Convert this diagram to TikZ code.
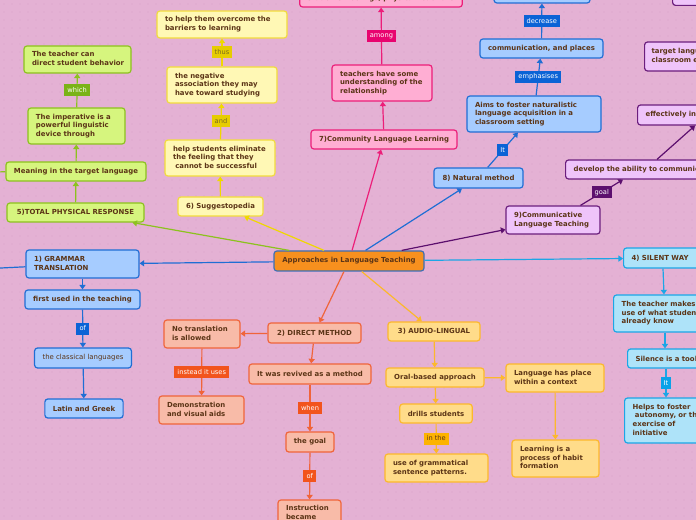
\documentclass[tikz,border=0pt]{standalone}
\usepackage{fontspec}
\setmainfont{DejaVu Sans}
\usetikzlibrary{arrows.meta,calc}
\setlength{\parindent}{0pt}
\newcommand{\mlines}[1]{\begin{tabular}{@{}l@{}}#1\end{tabular}}
\definecolor{bgc}{HTML}{E4B1D4}
\definecolor{dotc}{HTML}{D8A2C8}
\definecolor{txt}{HTML}{5B3416}
\definecolor{gfill}{HTML}{D6F57E}\definecolor{gdraw}{HTML}{8CC21E}\definecolor{glab}{HTML}{7AB317}
\definecolor{yfill}{HTML}{FFF8B5}\definecolor{ydraw}{HTML}{F2DC3C}\definecolor{ylab}{HTML}{E6CC00}\definecolor{yline}{HTML}{F0D800}
\definecolor{pfill}{HTML}{FFAED3}\definecolor{pdraw}{HTML}{EC1E79}\definecolor{plab}{HTML}{E8046F}
\definecolor{bfill}{HTML}{A6CCFF}\definecolor{bdraw}{HTML}{1F6ED4}\definecolor{blab}{HTML}{0B63D6}
\definecolor{ufill}{HTML}{EFC4FA}\definecolor{udraw}{HTML}{6B1E7D}\definecolor{ulab}{HTML}{5C0F6E}
\definecolor{lfill}{HTML}{AEE3F9}\definecolor{ldraw}{HTML}{1CA6E6}\definecolor{llab}{HTML}{0AA2E8}
\definecolor{sfill}{HTML}{F8BBA8}\definecolor{sdraw}{HTML}{F0643A}\definecolor{slab}{HTML}{F2541D}
\definecolor{ofill}{HTML}{FFDC8A}\definecolor{odraw}{HTML}{FCB82C}\definecolor{olab}{HTML}{FDB300}
\definecolor{cfill}{HTML}{F7901E}\definecolor{cdraw}{HTML}{3C6EB4}
\definecolor{ylabtxt}{HTML}{7A6A20}
\tikzset{
  box/.style={draw, rounded corners=2.2pt, line width=0.9pt, text=txt,
    font=\fontsize{5.2}{6.5}\selectfont\bfseries, align=left, inner xsep=6pt, inner ysep=0pt},
  wh/.style 2 args={minimum width=#1*0.75pt, minimum height=#2*0.75pt},
  lab/.style={inner xsep=2.3pt, inner ysep=0pt, minimum height=9pt,
    font=\fontsize{5}{6}\selectfont, text=white},
  con/.style={line width=0.9pt},
  arr/.style={con, -{Triangle[width=4.6pt,length=3.4pt]}},
  gbox/.style={box, fill=gfill, draw=gdraw},
  ybox/.style={box, fill=yfill, draw=ydraw},
  pbox/.style={box, fill=pfill, draw=pdraw},
  bbox/.style={box, fill=bfill, draw=bdraw},
  ubox/.style={box, fill=ufill, draw=udraw},
  lbox/.style={box, fill=lfill, draw=ldraw},
  sbox/.style={box, fill=sfill, draw=sdraw},
  obox/.style={box, fill=ofill, draw=odraw},
  cbox/.style={box, fill=cfill, draw=cdraw},
}
\begin{document}
\begin{tikzpicture}[x=0.75pt,y=-0.75pt]
\useasboundingbox (0,0) rectangle (696,520);
\clip (0,0) rectangle (696,520);
\fill[bgc] (0,0) rectangle (696,520);
\foreach \x in {4,12,...,700} \foreach \y in {4,12,...,524} {\fill[dotc] (\x,\y) circle (0.45pt);}

% central
\node[cbox, wh={150}{20}] (c) at (349,261) {Approaches in Language Teaching};

% green: TPR
\node[gbox, wh={137}{19}] (tpr) at (75.5,212.5) {5)TOTAL PHYSICAL RESPONSE};
\node[gbox, wh={138}{19}] (mean) at (76,171.5) {Meaning in the target language};
\node[gbox, text width=60.75pt, minimum height=36*0.75pt] (imp) at (76.5,126) {\mlines{The imperative is a\\powerful linguistic\\device through}};
\node[gbox, text width=68.25pt, minimum height=27*0.75pt] (tcan) at (77.5,59.5) {\mlines{The teacher can\\direct student behavior}};
\coordinate (offA) at (-30,172);

% yellow: Suggestopedia
\node[ybox, wh={85}{19}] (sug) at (220.5,206.5) {6) Suggestopedia};
\node[ybox, text width=70.5pt, minimum height=36*0.75pt] (help) at (220,158) {\mlines{help students eliminate\\the feeling that they\\\ cannot be successful}};
\node[ybox, text width=70.5pt, minimum height=36*0.75pt] (neg) at (222,85) {\mlines{the negative\\association they may\\have toward studying}};
\node[ybox, text width=85.5pt, minimum height=27*0.75pt] (over) at (222,24.5) {\mlines{to help them overcome the\\barriers to learning}};

% pink: CLL
\node[pbox, wh={146}{19}] (cll) at (384,139.5) {7)Community Language Learning};
\node[pbox, text width=63pt, minimum height=36*0.75pt] (teach) at (382,83) {\mlines{teachers have some\\understanding of the\\relationship}};
\node[pbox, wh={162}{16}] (ptop) at (381,-1) {students' feelings, physical reactions};

% blue: Natural method
\node[bbox, wh={89}{20}] (nat) at (478.5,178) {8) Natural method};
\node[bbox, text width=88.5pt, minimum height=36*0.75pt] (aims) at (534,114) {\mlines{Aims to foster naturalistic\\language acquisition in a\\classroom setting}};
\node[bbox, wh={123}{19}] (comm) at (541.5,48.5) {communication, and places};
\node[bbox, wh={96}{20}] (btop) at (542,-7) {};

% purple: CLT
\node[ubox, text width=58.5pt, minimum height=28*0.75pt] (clt) at (553,220) {\mlines{9)Communicative\\Language Teaching}};
\node[ubox, anchor=west, text width=150pt, minimum height=19*0.75pt] (dev) at (565,169.5) {develop the ability to communicate};
\node[ubox, anchor=west, text width=90pt, minimum height=20*0.75pt] (eff) at (637,115) {effectively in the};
\node[ubox, anchor=west, text width=90pt, minimum height=29*0.75pt, inner xsep=5.2pt] (tgt) at (644,56.5) {\mlines{target language\\classroom environment}};
\node[ubox, anchor=south west, wh={60}{20}] (utop) at (672,6) {};

% light blue: Silent Way
\node[lbox, anchor=west, text width=75pt, minimum height=20*0.75pt] (sw) at (623,258) {4) SILENT WAY};
\node[lbox, anchor=west, text width=90pt, minimum height=37*0.75pt] (tm) at (613,313.5) {\mlines{The teacher makes\\use of what students\\already know}};
\node[lbox, anchor=west, text width=75pt, minimum height=19*0.75pt] (sil) at (627,358.5) {Silence is a tool};
\node[lbox, anchor=west, text width=90pt, minimum height=45*0.75pt] (helps) at (624,420.5) {\mlines{Helps to foster\\\ autonomy, or the\\exercise of\\initiative}};

% blue: Grammar translation
\node[bbox, text width=72.75pt, minimum height=28*0.75pt] (gt) at (82.5,264) {\mlines{1) GRAMMAR\\TRANSLATION}};
\node[bbox, wh={115}{19}] (first) at (82.5,299.5) {first used in the teaching};
\node[bbox, wh={96}{20}, font=\fontsize{5.2}{6.5}\selectfont] (class) at (83,358) {the classical languages};
\node[bbox, wh={78}{19}] (latin) at (84,408.5) {Latin and Greek};
\coordinate (offB) at (-40,270);

% salmon: Direct method
\node[sbox, wh={93}{20}] (dm) at (314.5,333) {2) DIRECT METHOD};
\node[sbox, text width=45pt, minimum height=28*0.75pt] (notr) at (202,334) {\mlines{No translation\\is allowed}};
\node[sbox, text width=51.75pt, minimum height=28*0.75pt] (demo) at (201.5,410) {\mlines{Demonstration\\and visual aids}};
\node[sbox, wh={122}{20}] (rev) at (310,374) {It was revived as a method};
\node[sbox, wh={48}{20}] (goal) at (310,442) {the goal};
\node[sbox, text width=35.25pt, minimum height=27*0.75pt] (instr) at (309.5,513.5) {\mlines{Instruction\\became}};

% orange: Audio-lingual
\node[obox, wh={92}{19}] (al) at (434,331.5) {3) AUDIO-LINGUAL};
\node[obox, wh={98}{19}] (oral) at (435,377.5) {Oral-based approach};
\node[obox, text width=61.5pt, minimum height=28*0.75pt] (lang) at (555,378) {\mlines{Language has place\\within a context}};
\node[obox, wh={72}{19}] (drill) at (436,413.5) {drills students};
\node[obox, text width=65.25pt, minimum height=28*0.75pt] (use) at (436.5,468) {\mlines{use of grammatical\\sentence patterns.}};
\node[obox, text width=53.25pt, minimum height=37*0.75pt] (learn) at (555.5,458.5) {\mlines{Learning is a\\process of habit\\formation}};

% central connectors
\draw[arr, bdraw] (c) -- (gt);
\draw[arr, gdraw] (c) -- (tpr);
\draw[arr, yline] (c) -- (sug);
\draw[arr, pdraw] (c) -- (cll);
\draw[arr, bdraw] (c) -- (nat);
\draw[arr, ulab] (c) -- (clt);
\draw[arr, ldraw] (c) -- (sw);
\draw[arr, sdraw] (c) -- (dm);
\draw[arr, odraw] (c) -- (al);

% green
\draw[arr, gdraw] (tpr) -- (mean);
\draw[arr, gdraw] (mean) -- (imp);
\draw[arr, gdraw] (imp) -- node[lab, fill=glab] {which} (tcan);
\draw[con, gdraw] (offA) -- (mean);

% yellow
\draw[arr, yline] (sug) -- (help);
\draw[arr, yline] (help) -- node[lab, fill=ylab, text=ylabtxt] {and} (neg);
\draw[arr, yline] (neg) -- node[lab, fill=ylab, text=ylabtxt] {thus} (over);

% pink
\draw[arr, pdraw] (cll) -- (teach);
\draw[arr, pdraw] (teach) -- node[lab, fill=plab] {among} (ptop);

% blue natural
\draw[arr, bdraw] (nat) -- node[lab, fill=blab] {It} (aims);
\draw[arr, bdraw] (aims) -- node[lab, fill=blab] {emphasises} (comm);
\draw[arr, bdraw] (comm) -- node[lab, fill=blab] {decrease} (btop);

% purple
\draw[arr, ulab] (clt.28) -- node[lab, fill=ulab] {goal} ($(dev.south west)+(58,0)$);
\draw[arr, ulab] ($(dev.north west)+(92,0)$) -- ($(eff.south west)+(58,0)$);

% light blue
\draw[arr, ldraw] ($(sw.south west)+(40,0)$) -- ($(tm.north west)+(51,0)$);
\draw[arr, ldraw] ($(tm.south west)+(52,0)$) -- ($(sil.north west)+(38,0)$);
\draw[arr, ldraw] ($(sil.south west)+(39,0)$) -- node[lab, fill=llab] {It} ($(helps.north west)+(42,0)$);

% grammar translation
\draw[con, bdraw] (offB) -- (gt);
\draw[arr, bdraw] (gt) -- (first);
\draw[arr, bdraw] (first) -- node[lab, fill=blab] {of} (class);
\draw[arr, bdraw] (class) -- (latin);

% direct method
\draw[arr, sdraw] (dm) -- (notr);
\draw[arr, sdraw] (notr) -- node[lab, fill=slab] {instead it uses} (demo);
\draw[arr, sdraw] (dm) -- (rev);
\draw[arr, sdraw] (rev) -- node[lab, fill=slab] {when} (goal);
\draw[arr, sdraw] (goal) -- node[lab, fill=slab] {of} (instr);

% audio-lingual
\draw[arr, odraw] (al) -- (oral);
\draw[arr, odraw] (oral) -- (drill);
\draw[arr, odraw] (drill) -- node[lab, fill=olab, text=txt] {in the} (use);
\draw[arr, odraw] (oral) -- (lang);
\draw[arr, odraw] (lang) -- (learn);
\end{tikzpicture}
\end{document}
